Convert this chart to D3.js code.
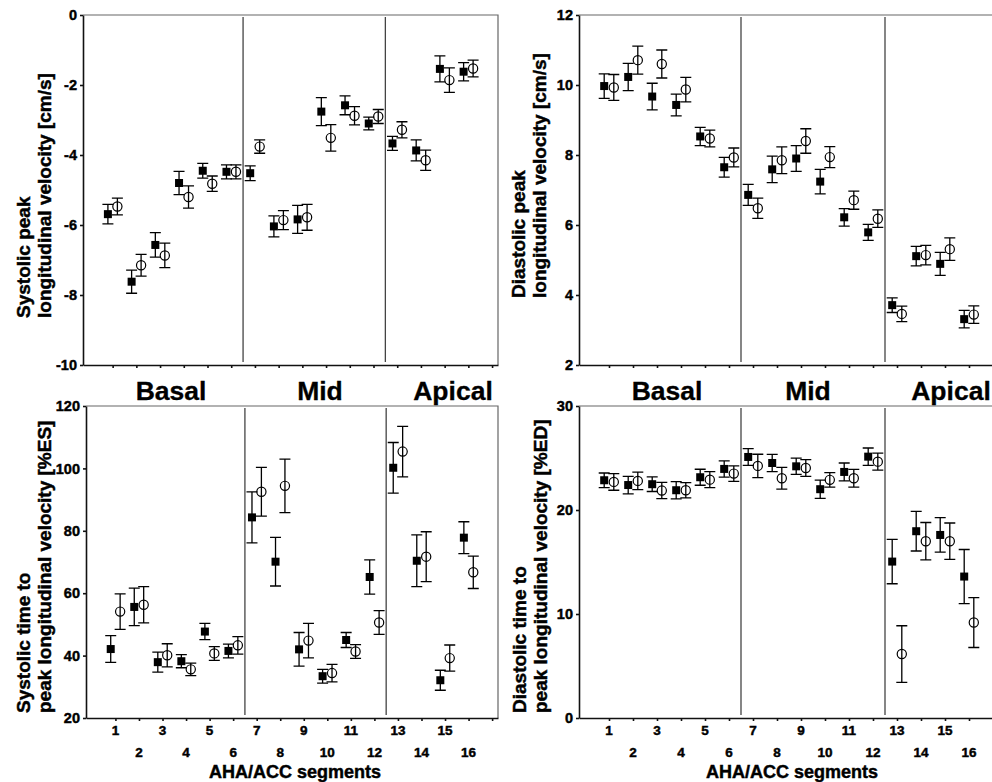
<!DOCTYPE html>
<html>
<head>
<meta charset="utf-8">
<script src="https://cdn.jsdelivr.net/npm/d3@7"></script>
<style>
  html, body { margin: 0; padding: 0; background: #fff; }
  svg { display: block; }
  svg text {
    font-family: "Liberation Sans", Arial, Helvetica, sans-serif; font-weight: 700; fill: #000;
    stroke: #000; stroke-width: 0.45px; paint-order: stroke;
  }
</style>
</head>
<body>
<svg id="chart" width="992" height="782"></svg>
<script>
// AHA/ACC segments 1-16
const segments = d3.range(1, 17);
const tickSegments = d3.range(1, 18);
const regions = ["Basal", "Mid", "Apical"];
const separators = [6.5, 12.5];

// Systolic peak longitudinal velocity [cm/s]
const sysVelSolid    = [-5.69, -7.62, -6.57, -4.80, -4.45, -4.48, -4.52, -6.04, -5.84, -2.76, -2.58, -3.10, -3.67, -3.87, -1.54, -1.62];
const sysVelSolidErr = [0.28, 0.33, 0.35, 0.33, 0.21, 0.20, 0.21, 0.30, 0.40, 0.40, 0.27, 0.18, 0.20, 0.30, 0.37, 0.26];
const sysVelOpen     = [-5.47, -7.15, -6.87, -5.20, -4.82, -4.48, -3.76, -5.86, -5.78, -3.51, -2.88, -2.90, -3.28, -4.15, -1.86, -1.53];
const sysVelOpenErr  = [0.24, 0.31, 0.35, 0.32, 0.22, 0.20, 0.19, 0.27, 0.37, 0.38, 0.26, 0.20, 0.23, 0.29, 0.35, 0.24];
const sysVelTicks    = [-10, -8, -6, -4, -2, 0];

// Diastolic peak longitudinal velocity [cm/s]
const diaVelSolid    = [9.97, 10.23, 9.67, 9.43, 8.53, 7.65, 6.86, 7.59, 7.90, 7.24, 6.22, 5.79, 3.71, 5.11, 4.89, 3.31];
const diaVelSolidErr = [0.35, 0.39, 0.38, 0.31, 0.26, 0.28, 0.30, 0.38, 0.37, 0.35, 0.25, 0.23, 0.21, 0.28, 0.33, 0.25];
const diaVelOpen     = [9.93, 10.71, 10.60, 9.87, 8.47, 7.93, 6.48, 7.85, 8.40, 7.94, 6.71, 6.18, 3.46, 5.14, 5.31, 3.44];
const diaVelOpenErr  = [0.37, 0.40, 0.40, 0.35, 0.24, 0.27, 0.29, 0.38, 0.35, 0.30, 0.26, 0.25, 0.22, 0.28, 0.32, 0.25];
const diaVelTicks    = [2, 4, 6, 8, 10, 12];

// Systolic time to peak longitudinal velocity [%ES]
const sysTimeSolid    = [42.1, 55.6, 37.9, 38.2, 47.7, 41.5, 84.3, 70.1, 42.0, 33.4, 45.0, 65.2, 100.2, 70.4, 32.1, 77.8];
const sysTimeSolidErr = [4.3, 6.0, 3.2, 2.1, 2.6, 2.2, 8.2, 7.8, 5.4, 2.2, 2.4, 5.5, 8.1, 8.3, 3.2, 5.1];
const sysTimeOpen     = [54.1, 56.3, 40.1, 35.6, 40.7, 43.3, 92.5, 94.4, 44.8, 34.4, 41.3, 50.6, 105.4, 71.7, 39.2, 66.7];
const sysTimeOpenErr  = [5.7, 5.8, 3.7, 2.0, 2.2, 2.8, 7.8, 8.6, 5.5, 2.8, 2.2, 3.8, 8.1, 8.0, 4.2, 5.2];
const sysTimeTicks    = [20, 40, 60, 80, 100, 120];

// Diastolic time to peak longitudinal velocity [%ED]
const diaTimeSolid    = [22.86, 22.40, 22.48, 21.90, 23.15, 23.95, 25.10, 24.52, 24.20, 22.00, 23.66, 25.13, 15.04, 17.96, 17.60, 13.60];
const diaTimeSolidErr = [0.70, 0.84, 0.70, 0.83, 0.77, 0.78, 0.80, 0.83, 0.78, 0.88, 0.86, 0.83, 2.13, 1.90, 1.66, 2.60];
const diaTimeOpen     = [22.70, 22.80, 21.87, 21.90, 22.92, 23.50, 24.24, 23.05, 24.04, 22.90, 23.05, 24.65, 6.15, 17.00, 17.00, 9.18];
const diaTimeOpenErr  = [0.80, 0.84, 0.78, 0.74, 0.77, 0.75, 1.12, 1.04, 0.81, 0.70, 0.86, 0.81, 2.72, 1.80, 1.75, 2.40];
const diaTimeTicks    = [0, 10, 20, 30];

const xDomain = [-0.25, 17.25];
const solidShift = -0.2, openShift = 0.2;

const svg = d3.select("#chart");

const panels = [
  { box: { l: 83, r: 498, t: 15, b: 365 }, domain: [-10, 0], ticks: sysVelTicks,
    solid: sysVelSolid, solidErr: sysVelSolidErr, open: sysVelOpen, openErr: sysVelOpenErr,
    title: ["Systolic peak", "longitudinal velocity [cm/s]"], titleX: 30, titleY: 318,
    xLabels: false },
  { box: { l: 579, r: 999, t: 15, b: 365 }, domain: [2, 12], ticks: diaVelTicks,
    solid: diaVelSolid, solidErr: diaVelSolidErr, open: diaVelOpen, openErr: diaVelOpenErr,
    title: ["Diastolic peak", "longitudinal velocity [cm/s]"], titleX: 525, titleY: 298,
    xLabels: false },
  { box: { l: 86, r: 498, t: 406, b: 718 }, domain: [20, 120], ticks: sysTimeTicks,
    solid: sysTimeSolid, solidErr: sysTimeSolidErr, open: sysTimeOpen, openErr: sysTimeOpenErr,
    title: ["Systolic time to", "peak longitudinal velocity [%ES]"], titleX: 30, titleY: 713,
    xLabels: true, regionX: [171, 320, 453] },
  { box: { l: 579, r: 999, t: 406, b: 718 }, domain: [0, 30], ticks: diaTimeTicks,
    solid: diaTimeSolid, solidErr: diaTimeSolidErr, open: diaTimeOpen, openErr: diaTimeOpenErr,
    title: ["Diastolic time to", "peak longitudinal velocity [%ED]"], titleX: 526, titleY: 713,
    xLabels: true, regionX: [667, 808, 951] }
];

panels.forEach(p => {
  const { l, r, t, b } = p.box;
  const x = d3.scaleLinear().domain(xDomain).range([l, r]);
  const y = d3.scaleLinear().domain(p.domain).range([b, t]);
  const g = svg.append("g");

  // frame: light top and right borders
  g.append("path")
    .attr("d", `M${l},${t}H${r}V${b}`)
    .attr("fill", "none").attr("stroke", "#666").attr("stroke-width", 1.2);

  // region separators
  g.selectAll("line.sep").data(separators).join("line")
    .attr("class", "sep")
    .attr("x1", d => x(d)).attr("x2", d => x(d))
    .attr("y1", t + 2).attr("y2", b - 3)
    .attr("stroke", "#444").attr("stroke-width", 1.3);

  // y axis
  const yAxis = d3.axisLeft(y).tickValues(p.ticks).tickSize(3).tickPadding(3)
    .tickSizeOuter(0).tickFormat(d => String(d));
  const ya = g.append("g").attr("transform", `translate(${l},0)`).call(yAxis);
  ya.attr("font-family", null).attr("font-size", null);
  ya.select(".domain").attr("stroke", "#111").attr("stroke-width", 1.6);
  ya.selectAll(".tick line").attr("stroke", "#111").attr("stroke-width", 1.6);
  ya.selectAll(".tick text").style("font-size", "14.5px");

  // x axis
  const xAxis = d3.axisBottom(x).tickValues(tickSegments).tickSize(3).tickSizeOuter(0).tickFormat("");
  const xa = g.append("g").attr("transform", `translate(0,${b})`).call(xAxis);
  xa.select(".domain").attr("stroke", "#111").attr("stroke-width", 1.6);
  xa.selectAll(".tick line").attr("stroke", "#111").attr("stroke-width", 1.6);

  if (p.xLabels) {
    g.selectAll("text.seg").data(segments).join("text")
      .attr("class", "seg")
      .attr("x", d => x(d)).attr("y", d => d % 2 ? b + 17 : b + 39)
      .attr("text-anchor", "middle").style("font-size", "13.5px").text(d => d);
    g.append("text")
      .attr("x", (x(1) + x(16)) / 2 + 3).attr("y", b + 60)
      .attr("text-anchor", "middle").style("font-size", "18px")
      .text("AHA/ACC segments");
    g.selectAll("text.region").data(regions).join("text")
      .attr("class", "region")
      .attr("x", (d, i) => p.regionX[i]).attr("y", t - 6)
      .attr("text-anchor", "middle").style("font-size", "26.5px").style("stroke-width", "0.3px")
      .text(d => d);
  }

  // y axis title, two left-aligned lines
  const tt = g.append("text")
    .attr("transform", `translate(${p.titleX},${p.titleY}) rotate(-90)`)
    .style("font-size", "19px");
  p.title.forEach((s, i) => tt.append("tspan").attr("x", 0).attr("dy", i ? 21 : 0).text(s));

  // error bars and markers
  const cap = 5.5;
  const series = [
    { vals: p.solid, err: p.solidErr, shift: solidShift, kind: "solid" },
    { vals: p.open, err: p.openErr, shift: openShift, kind: "open" }
  ];
  series.forEach(s => {
    const rows = segments.map((seg, i) => ({ seg, v: s.vals[i], e: s.err[i] }));
    const eg = g.append("g").attr("stroke", "#000").attr("stroke-width", 1.3).attr("fill", "none");
    eg.selectAll("path").data(rows).join("path")
      .attr("d", d => {
        const cx = x(d.seg + s.shift), y1 = y(d.v + d.e), y2 = y(d.v - d.e);
        return `M${cx - cap},${y1}H${cx + cap}M${cx},${y1}V${y2}M${cx - cap},${y2}H${cx + cap}`;
      });
    if (s.kind === "solid") {
      g.selectAll(null).data(rows).join("rect")
        .attr("x", d => x(d.seg + s.shift) - 4).attr("y", d => y(d.v) - 4)
        .attr("width", 8).attr("height", 8).attr("fill", "#000");
    } else {
      g.selectAll(null).data(rows).join("circle")
        .attr("cx", d => x(d.seg + s.shift)).attr("cy", d => y(d.v))
        .attr("r", 4.6).attr("fill", "none").attr("stroke", "#000").attr("stroke-width", 1.2);
    }
  });
});
</script>
</body>
</html>
